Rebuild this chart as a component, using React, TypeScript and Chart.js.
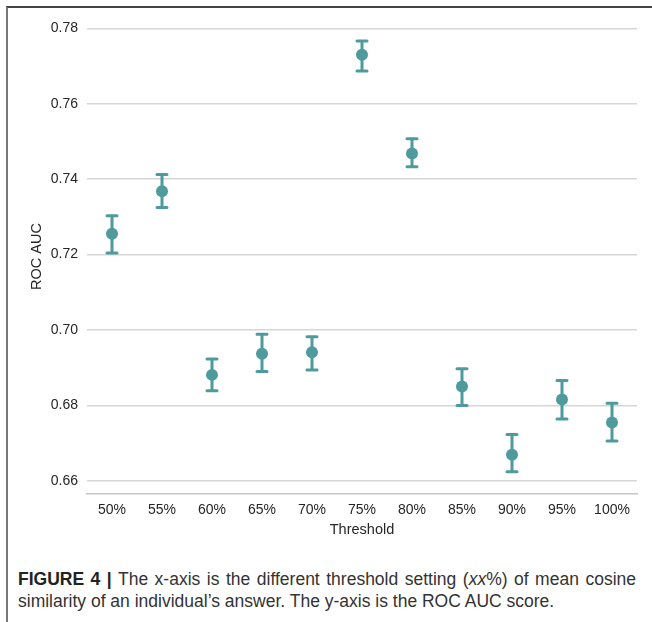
import React, { useEffect, useRef } from "react";
import { Chart, registerables } from "chart.js";

Chart.register(...registerables);

const categories = ["50%", "55%", "60%", "65%", "70%", "75%", "80%", "85%", "90%", "95%", "100%"];
const meanAuc = [0.7255, 0.7368, 0.6881, 0.6937, 0.6941, 0.773, 0.7468, 0.685, 0.6669, 0.6816, 0.6755];
const lowerAuc = [0.7204, 0.7325, 0.6839, 0.689, 0.6894, 0.7687, 0.7433, 0.68, 0.6624, 0.6764, 0.6706];
const upperAuc = [0.7303, 0.7412, 0.6923, 0.6989, 0.6982, 0.7766, 0.7507, 0.6897, 0.6723, 0.6866, 0.6806];
const yTicks = [0.66, 0.68, 0.7, 0.72, 0.74, 0.76, 0.78];
const yMin = 0.6567;
const yMax = 0.7823;

const TEAL = "#4f9a9c";
const FONT = "'Liberation Sans', Arial, Helvetica, sans-serif";

const errorBarPlugin = {
  id: "errorBars",
  beforeDatasetsDraw(chart: any) {
    const { ctx, scales } = chart;
    const xs = scales.x;
    const ys = scales.y;
    ctx.save();
    ctx.strokeStyle = TEAL;
    ctx.lineWidth = 3;
    ctx.lineCap = "round";
    for (let i = 0; i < categories.length; i++) {
      const x = xs.getPixelForValue(i);
      const yl = ys.getPixelForValue(lowerAuc[i]);
      const yu = ys.getPixelForValue(upperAuc[i]);
      ctx.beginPath();
      ctx.moveTo(x, yl);
      ctx.lineTo(x, yu);
      ctx.moveTo(x - 5, yl);
      ctx.lineTo(x + 5, yl);
      ctx.moveTo(x - 5, yu);
      ctx.lineTo(x + 5, yu);
      ctx.stroke();
    }
    ctx.restore();
  },
};

export default function App() {
  const ref = useRef<HTMLCanvasElement | null>(null);

  useEffect(() => {
    if (!ref.current) return;
    const chart = new Chart(ref.current, {
      type: "line",
      data: {
        labels: categories,
        datasets: [
          {
            data: meanAuc,
            showLine: false,
            pointRadius: 6,
            pointHoverRadius: 6,
            pointBackgroundColor: TEAL,
            pointBorderWidth: 0,
            borderColor: TEAL,
          },
        ],
      },
      options: {
        responsive: false,
        animation: false,
        devicePixelRatio: 1,
        layout: { padding: { left: 0, right: 15, top: 19.6, bottom: 0 } },
        plugins: { legend: { display: false }, tooltip: { enabled: false } },
        scales: {
          x: {
            type: "category",
            offset: true,
            grid: { display: false, drawTicks: false },
            border: { display: true, color: "#c6c6c6", width: 1.5 },
            ticks: { color: "#262626", font: { family: FONT, size: 14 }, padding: 8 },
            title: {
              display: true,
              text: "Threshold",
              color: "#262626",
              font: { family: FONT, size: 14.5 },
              padding: { top: 0, bottom: 11 },
            },
            afterFit: (s: any) => {
              s.height = 56.7;
            },
          },
          y: {
            type: "linear",
            min: yMin,
            max: yMax,
            afterBuildTicks: (s: any) => {
              s.ticks = yTicks.map((v) => ({ value: v }));
            },
            grid: { color: "#d6d6d6", lineWidth: 1.5, drawTicks: false },
            border: { display: false },
            ticks: {
              color: "#262626",
              font: { family: FONT, size: 14 },
              padding: 9,
              callback: (v: any) => Number(v).toFixed(2),
            },
            title: {
              display: true,
              text: "ROC AUC",
              color: "#262626",
              font: { family: FONT, size: 14.5 },
              padding: { top: 28, bottom: 0 },
            },
            afterFit: (s: any) => {
              s.width = 87;
            },
          },
        },
      },
      plugins: [errorBarPlugin],
    });
    return () => chart.destroy();
  }, []);

  return (
    <div style={{ position: "absolute", left: 0, top: 0, width: 652, height: 622, background: "#fff", overflow: "hidden" }}>
      <div
        style={{
          position: "absolute",
          left: 6,
          top: 6,
          right: 0,
          bottom: 0,
          borderTop: "2px solid #444",
          borderLeft: "2px solid #777",
        }}
      />
      <canvas ref={ref} width={652} height={550} style={{ position: "absolute", left: 0, top: 0, width: 652, height: 550 }} />
      <div
        style={{
          position: "absolute",
          left: 18,
          top: 568,
          width: 618,
          fontFamily: FONT,
          fontSize: 17.5,
          lineHeight: "22px",
          color: "#333",
          whiteSpace: "nowrap",
        }}
      >
        <div style={{ textAlign: "justify", textAlignLast: "justify" }}>
          <b style={{ color: "#222" }}>FIGURE 4 |</b> The x-axis is the different threshold setting (<i>xx</i>%) of mean cosine
        </div>
        <div>similarity of an individual’s answer. The y-axis is the ROC AUC score.</div>
      </div>
    </div>
  );
}
